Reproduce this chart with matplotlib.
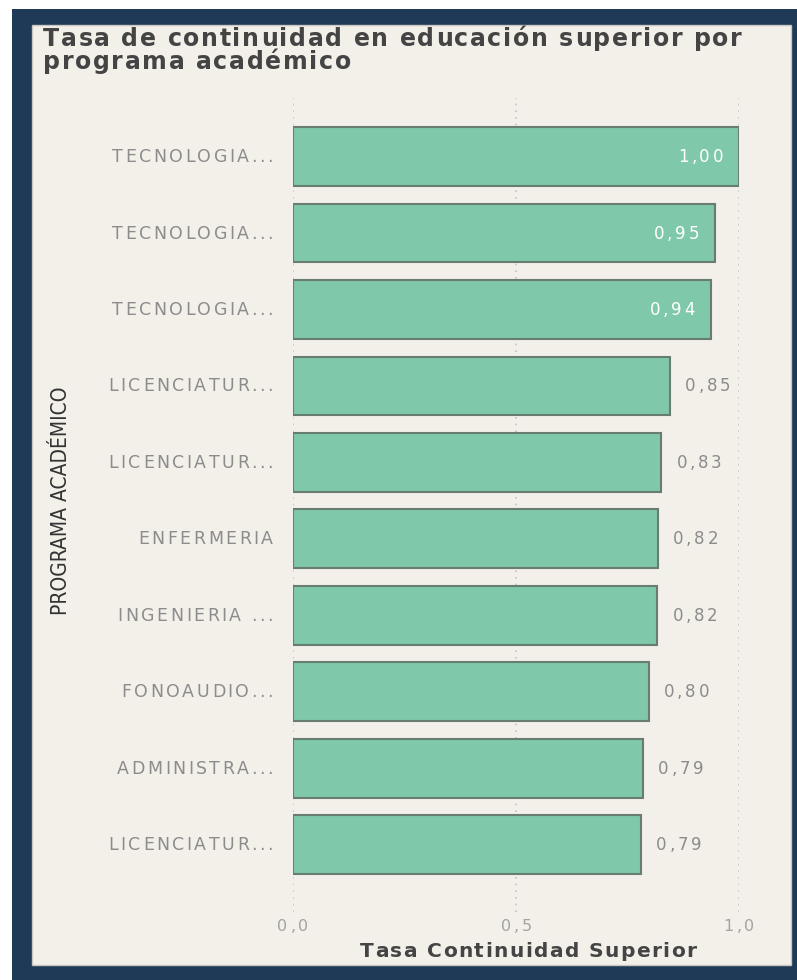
import matplotlib
matplotlib.use("Agg")
import matplotlib.pyplot as plt
from matplotlib.patches import Rectangle
import numpy as np

W, H = 797, 980

programas = ["TECNOLOGIA...", "TECNOLOGIA...", "TECNOLOGIA...",
             "LICENCIATUR...", "LICENCIATUR...", "ENFERMERIA",
             "INGENIERIA ...", "FONOAUDIO...", "ADMINISTRA...",
             "LICENCIATUR..."]
tasa = [1.00, 0.946, 0.937, 0.846, 0.826, 0.818, 0.817, 0.798, 0.785, 0.781]
etiquetas = ["1,00", "0,95", "0,94", "0,85", "0,83", "0,82", "0,82",
             "0,80", "0,79", "0,79"]
xticks = [0.0, 0.5, 1.0]
xtick_labels = ["0,0", "0,5", "1,0"]
titulo = ["Tasa de continuidad en educación superior por", "programa académico"]
xlabel = "Tasa Continuidad Superior"
ylabel = "PROGRAMA ACADÉMICO"

NAVY = "#1f3a57"
PANEL = "#f3efe9"
BAR = "#7fc8a9"
EDGE = "#687c70"
GRAY = "#8c8c8c"


def fx(px):
    return px / W


def fy(py):
    return 1 - py / H


fig = plt.figure(figsize=(W / 100, H / 100), dpi=100)
fig.patch.set_facecolor("white")
R = fig.canvas.get_renderer()


def advances(s, **kw):
    # advance width of each char, measured between two "x"
    t = fig.text(0, 0, "xx", **kw)
    base = t.get_window_extent(R).width
    out = []
    for ch in s:
        t.set_text("x" + ch + "x")
        out.append(t.get_window_extent(R).width - base)
    t.remove()
    return out


def spaced(x, y, s, ha="left", target=None, track=0.0, **kw):
    # text drawn char by char with letter spacing, x/y in pixels (y = baseline)
    ws = advances(s, **kw)
    if target is not None:
        track = (target - sum(ws)) / (len(s) - 1)
    total = sum(ws) + track * (len(s) - 1)
    if ha == "right":
        x -= total
    elif ha == "center":
        x -= total / 2
    for ch, w in zip(s, ws):
        fig.text(fx(x), fy(y), ch, ha="left", va="baseline", zorder=5, **kw)
        x += w + track
    return track


# navy frame and beige panel
fig.patches.append(Rectangle((fx(12), fy(980)), fx(797) - fx(12), fy(9) - fy(980),
                             transform=fig.transFigure, facecolor=NAVY,
                             edgecolor="none", zorder=-2))
fig.patches.append(Rectangle((fx(32), fy(965)), fx(791) - fx(32), fy(25) - fy(965),
                             transform=fig.transFigure, facecolor=PANEL,
                             edgecolor="#c9c6c0", linewidth=1, zorder=-1))

ax = fig.add_axes([fx(293), fy(912), fx(739) - fx(293), fy(98) - fy(912)])
ax.set_zorder(2)
ax.set_facecolor("none")
y = np.arange(len(programas))
ax.barh(y, tasa, height=0.77, color=BAR, edgecolor=EDGE, linewidth=1.5, zorder=2)
ax.set_xlim(0, 1.0)
ax.set_ylim(9.88, -0.766)
ax.set_xticks(xticks)
ax.set_xticklabels([])
ax.set_yticks([])
ax.tick_params(length=0)
for s in ax.spines.values():
    s.set_visible(False)
ax.grid(axis="x", linestyle=(0, (1, 3)), color="#c4c4c4", linewidth=1.2, zorder=1)
ax.set_axisbelow(True)


def to_px(xv, yv):
    px, py = ax.transData.transform((xv, yv))
    return px, H - py


# category labels
trk = None
for i, lab in enumerate(programas):
    _, py = to_px(0, i)
    if trk is None:
        trk = spaced(273, py + 5.5, lab, ha="right", target=161,
                     fontsize=12.5, color=GRAY)
    else:
        spaced(273, py + 5.5, lab, ha="right", track=trk, fontsize=12.5, color=GRAY)

# value labels
vtrk = (45 - sum(advances("0,85", fontsize=12))) / 3
for i, (v, lab) in enumerate(zip(tasa, etiquetas)):
    px, py = to_px(v, i)
    if v > 0.9:
        spaced(px - 16, py + 5.5, lab, ha="right", track=vtrk,
               fontsize=12, color="white")
    else:
        spaced(px + 15, py + 5.5, lab, ha="left", track=vtrk,
               fontsize=12, color=GRAY)

# x tick labels
for xv, lab in zip(xticks, xtick_labels):
    px, _ = to_px(xv, 0)
    spaced(px, 931, lab, ha="center", target=31, fontsize=11.5, color="#a3a3a3")

spaced(528, 957, xlabel, ha="center", target=336, fontsize=14.5,
       fontweight="bold", color="#444444")

fig.text(fx(61), fy(501), ylabel, rotation=90, ha="center", va="center",
         fontsize=15, color="#333333", fontstretch="condensed",
         family=["Liberation Sans Narrow", "DejaVu Sans"])

tkw = dict(fontsize=17, fontweight="bold", color="#444444")
ttrk = spaced(43, 46, titulo[0], target=699, **tkw)
spaced(43, 69, titulo[1], track=ttrk, **tkw)

fig.savefig("out.png", dpi=100, facecolor=fig.get_facecolor())
